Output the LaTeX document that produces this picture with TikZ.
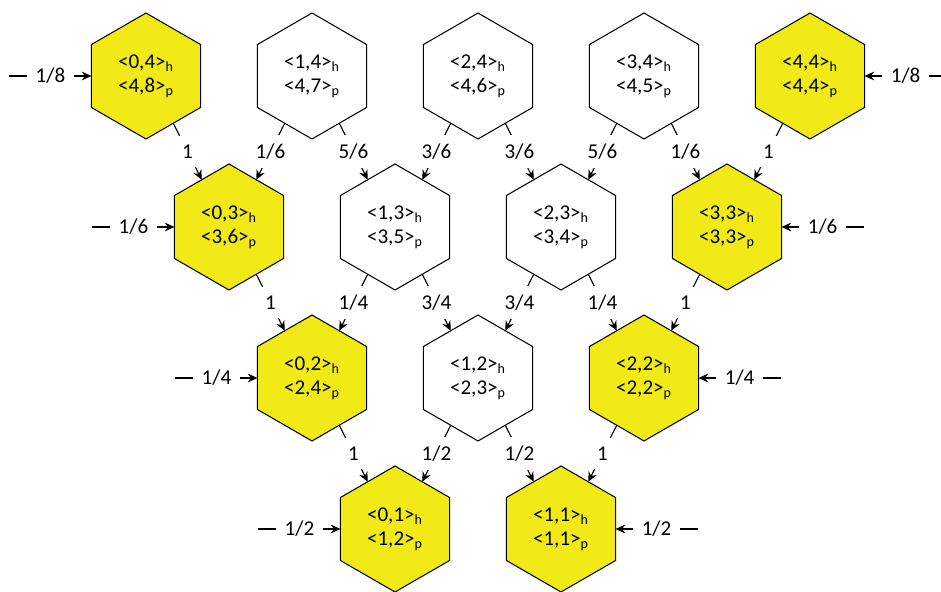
\documentclass[tikz,border=0pt]{standalone}
\usepackage{fontspec}
\setmainfont{Carlito}
\usepackage{tikz}
\usetikzlibrary{arrows.meta,calc,shapes.geometric}
\definecolor{hexyellow}{RGB}{242,234,22}

\newcommand{\cellpair}[4]{<#1,#2>\textsubscript{h}\\<#3,#4>\textsubscript{p}}

\begin{document}
\begin{tikzpicture}[x=0.02cm, y=-0.02cm,
    hex/.style={regular polygon, regular polygon sides=6, shape border rotate=30,
                draw, line width=0.6pt, minimum size=2.52cm, inner sep=0pt,
                outer sep=0pt, align=center, font=\fontsize{12}{13.6}\selectfont},
    wt/.style={fill=white, inner sep=5pt, font=\fontsize{12}{13}\selectfont},
    >={Stealth[length=5.5pt,width=5pt,inset=1.8pt]}]
\useasboundingbox (0,0) rectangle (941,592);
% cells, one row per n
\foreach \n in {1,...,4} {
  \foreach \i in {0,...,\n} {
    \pgfmathtruncatemacro{\q}{2*\n-\i}
    \def\fc{white}
    \ifnum\i=0 \def\fc{hexyellow}\fi
    \ifnum\i=\n \def\fc{hexyellow}\fi
    \node[hex, fill=\fc] (c\i\n) at ({146+83*(4-\n)+166*\i}, {76+151*(4-\n)})
      {\cellpair{\i}{\n}{\n}{\q}};
  }
}
% down-right links
\foreach \a/\b/\w in {04/03/1, 14/13/{5/6}, 24/23/{3/6}, 34/33/{1/6},
                      03/02/1, 13/12/{3/4}, 23/22/{1/4},
                      02/01/1, 12/11/{1/2}}
  \draw[->, line width=0.6pt] (c\a.-60) -- node[wt] {\w} (c\b.120);
% down-left links
\foreach \a/\b/\w in {14/03/{1/6}, 24/13/{3/6}, 34/23/{5/6}, 44/33/1,
                      13/02/{1/4}, 23/12/{3/4}, 33/22/1,
                      12/01/{1/2}, 22/11/1}
  \draw[->, line width=0.6pt] (c\a.-120) -- node[wt] {\w} (c\b.60);
% inputs at both ends of each row
\foreach \n in {1,...,4} {
  \pgfmathtruncatemacro{\d}{2*\n}
  \coordinate (inL\n) at ($(c0\n.west)+(-82,0)$);
  \coordinate (inR\n) at ($(c\n\n.east)+(82,0)$);
  \draw[->, line width=0.6pt] (inL\n) -- node[wt] {1/\d} (c0\n.west);
  \draw[->, line width=0.6pt] (inR\n) -- node[wt] {1/\d} (c\n\n.east);
}
\end{tikzpicture}
\end{document}
